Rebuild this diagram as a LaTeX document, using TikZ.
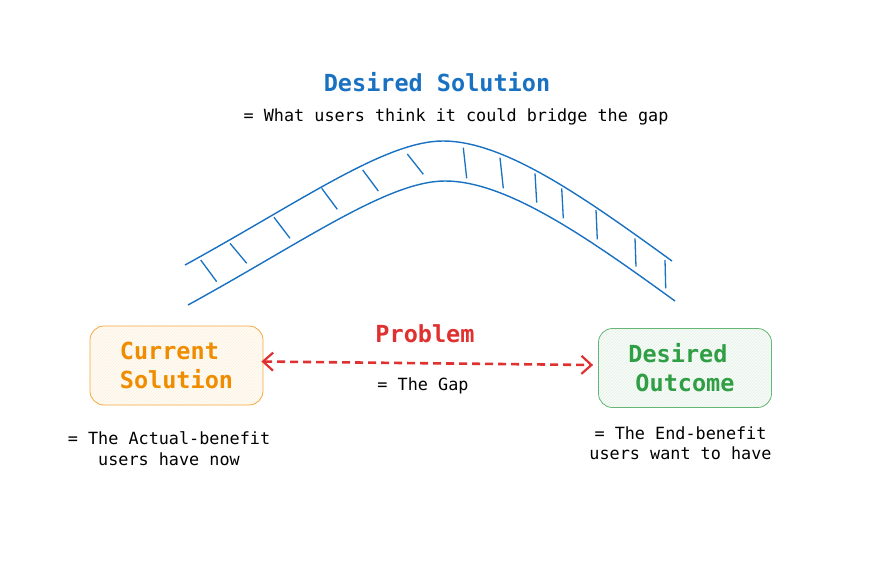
\documentclass[tikz,border=0pt]{standalone}
\usepackage{fontspec}
\setmainfont{DejaVu Sans Mono}
\usetikzlibrary{arrows.meta,patterns}
\definecolor{exblue}{HTML}{1971C2}
\definecolor{exgreen}{HTML}{2F9E44}
\definecolor{exred}{HTML}{E03131}
\definecolor{exorange}{HTML}{F08C00}
\newcommand{\tailsp}{\hphantom{n}}
\tikzset{
  headline/.style={font=\fontsize{23.5}{29}\selectfont\bfseries},
  remark/.style={font=\fontsize{16.8}{20.5}\selectfont,align=center,text=black},
  stage/.style={draw,rounded corners=14pt,minimum width=173pt,minimum height=79pt,
    align=center,font=\fontsize{23.5}{29}\selectfont\bfseries,line width=0.8pt},
  bridge/.style={exblue,line width=1.4pt},
  plank/.style={exblue,line width=1.3pt}
}
\begin{document}
\begin{tikzpicture}[x=1pt,y=-1pt]
\fill[white] (0,0) rectangle (877,570);
\useasboundingbox (0,0) rectangle (877,570);
% top labels
\node[headline,text=exblue] (title) at (437,82) {Desired Solution};
\node[remark] (sub) at (456,117) {= What users think it could bridge the gap};
% the bridge
\draw[bridge] (185,265) .. controls (300,202) and (385,141) .. (443,141)
  .. controls (505,141) and (585,198) .. (672,261);
\draw[bridge] (188,305) .. controls (303,242) and (388,181) .. (445,181)
  .. controls (507,181) and (588,238) .. (675,301);
\draw[plank] (200.7,260) -- (216.7,281.7);
\draw[plank] (230,243.3) -- (246.7,263.3);
\draw[plank] (274,217.3) -- (290,238.3);
\draw[plank] (321.7,188.3) -- (337.3,209.3);
\draw[plank] (362.7,170) -- (378.3,191);
\draw[plank] (407.3,154) -- (423.3,174.3);
\draw[plank] (463.3,147.7) -- (466.7,178.3);
\draw[plank] (500,157.7) -- (503.3,188.3);
\draw[plank] (535,173.3) -- (536.7,202.7);
\draw[plank] (561.7,188.3) -- (563.3,218.3);
\draw[plank] (596,210) -- (597.3,239.3);
\draw[plank] (635,238.3) -- (636,266.7);
\draw[plank] (665,260) -- (665.7,288.3);
% the two states
\node[stage,draw=exorange!75,text=exorange,preaction={fill=exorange!3},
  pattern=north east lines,pattern color=exorange!14] (cur) at (176.5,365.5) {Current\tailsp\\Solution};
\node[stage,draw=exgreen!75,text=exgreen,preaction={fill=exgreen!3},
  pattern=north east lines,pattern color=exgreen!14] (des) at (685,368) {Desired\tailsp\\Outcome};
\node[remark] (curtxt) at (169,448.5) {= The Actual-benefit\\users have now};
\node[remark] (destxt) at (680.5,443) {= The End-benefit\\users want to have};
% the gap
\node[headline,text=exred] (prob) at (425,334) {Problem};
\node[remark] (gap) at (423,386) {= The Gap};
\draw[exred,line width=2.6pt,dash pattern=on 8pt off 5pt,
  {Straight Barb[length=10pt,width=18pt,line width=2.2pt]}-{Straight Barb[length=10pt,width=18pt,line width=2.2pt]}]
  ([yshift=4pt,xshift=-2pt]cur.east) -- ([yshift=3pt,xshift=-5pt]des.west);
\end{tikzpicture}
\end{document}
